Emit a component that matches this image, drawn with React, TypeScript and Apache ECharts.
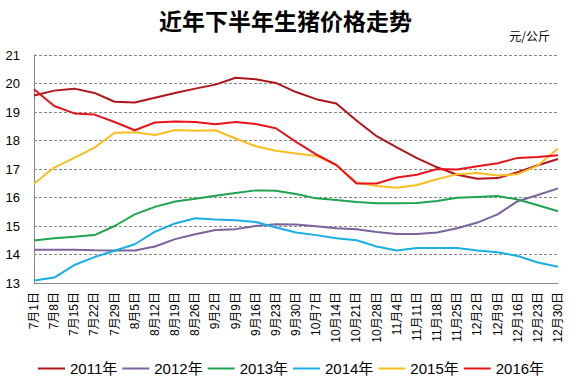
import React, { useEffect, useRef } from "react";
import * as echarts from "echarts";

const categories = [
  "7月1日", "7月8日", "7月15日", "7月22日", "7月29日", "8月5日", "8月12日", "8月19日", "8月26日",
  "9月2日", "9月9日", "9月16日", "9月23日", "9月30日", "10月7日", "10月14日", "10月21日", "10月28日",
  "11月4日", "11月11日", "11月18日", "11月25日", "12月2日", "12月9日", "12月16日", "12月23日", "12月30日",
];

const s2011 = [19.58, 19.75, 19.82, 19.67, 19.36, 19.33, 19.5, 19.67, 19.82, 19.96, 20.2, 20.15, 20.02, 19.7, 19.45, 19.3, 18.7, 18.15, 17.76, 17.38, 17.06, 16.8, 16.66, 16.68, 16.89, 17.13, 17.35];
const s2012 = [14.17, 14.17, 14.17, 14.15, 14.14, 14.14, 14.28, 14.54, 14.71, 14.86, 14.89, 15.0, 15.06, 15.05, 14.99, 14.92, 14.89, 14.79, 14.72, 14.72, 14.77, 14.92, 15.12, 15.41, 15.87, 16.09, 16.32];
const s2013 = [14.49, 14.57, 14.62, 14.68, 15.0, 15.41, 15.67, 15.86, 15.96, 16.06, 16.16, 16.25, 16.24, 16.12, 15.97, 15.91, 15.84, 15.8, 15.8, 15.81, 15.88, 15.99, 16.02, 16.05, 15.93, 15.73, 15.52];
const s2014 = [13.09, 13.19, 13.63, 13.91, 14.13, 14.36, 14.8, 15.09, 15.27, 15.23, 15.2, 15.14, 14.95, 14.77, 14.68, 14.57, 14.5, 14.28, 14.14, 14.23, 14.23, 14.23, 14.14, 14.08, 13.95, 13.72, 13.57];
const s2015 = [16.48, 17.05, 17.39, 17.75, 18.27, 18.29, 18.19, 18.37, 18.34, 18.36, 18.07, 17.8, 17.64, 17.54, 17.46, 17.14, 16.53, 16.4, 16.34, 16.44, 16.64, 16.82, 16.86, 16.77, 16.82, 17.12, 17.72];
const s2016 = [19.8, 19.21, 18.95, 18.91, 18.65, 18.36, 18.63, 18.67, 18.65, 18.57, 18.65, 18.58, 18.43, 17.95, 17.51, 17.14, 16.49, 16.49, 16.7, 16.8, 17.0, 16.98, 17.1, 17.2, 17.39, 17.42, 17.48];

const seriesNames = ["2011年", "2012年", "2013年", "2014年", "2015年", "2016年"];
const seriesData = [s2011, s2012, s2013, s2014, s2015, s2016];
const colors = ["#B0141C", "#7B639D", "#1FA350", "#1AAEE4", "#F7BE20", "#E8141B"];

export default function App() {
  const ref = useRef<HTMLDivElement>(null);
  useEffect(() => {
    if (!ref.current) return;
    const chart = echarts.init(ref.current, null, { renderer: "svg" });
    chart.setOption({
      animation: false,
      backgroundColor: "#ffffff",
      color: colors,
      textStyle: { fontFamily: "Liberation Sans, Noto Sans CJK SC, sans-serif" },
      title: [
        {
          text: "近年下半年生猪价格走势",
          left: "center",
          top: 3,
          textStyle: {
            fontFamily: "Noto Sans CJK SC",
            fontWeight: "bold",
            fontSize: 23,
            color: "#000",
          },
        },
        {
          text: "元/公斤",
          right: 16,
          top: 24,
          textStyle: {
            fontFamily: "Noto Sans CJK SC",
            fontWeight: "normal",
            fontSize: 12,
            color: "#000",
          },
        },
      ],
      legend: {
        left: 33,
        bottom: 6,
        icon: "rect",
        itemWidth: 27,
        itemHeight: 2,
        itemGap: 5,
        textStyle: { fontSize: 15, color: "#000", fontFamily: "Liberation Sans, Noto Sans CJK SC" },
        data: seriesNames,
      },
      grid: { left: 34, right: 13, top: 55, bottom: 104, containLabel: false },
      xAxis: {
        type: "category",
        boundaryGap: false,
        data: categories,
        axisLine: { lineStyle: { color: "#888", width: 1 } },
        axisTick: { show: false },
        axisLabel: {
          rotate: 90,
          interval: 0,
          margin: 9,
          fontSize: 12,
          color: "#000",
          fontFamily: "Liberation Sans, Noto Sans CJK SC",
        },
      },
      yAxis: {
        type: "value",
        min: 13,
        max: 21,
        interval: 1,
        axisLine: { show: true, lineStyle: { color: "#888", width: 1 } },
        axisTick: { show: false },
        axisLabel: { fontSize: 13, color: "#000", margin: 14 },
        splitLine: { lineStyle: { color: "#888", type: [3, 2], width: 1 } },
      },
      series: seriesData.map((d, i) => ({
        name: seriesNames[i],
        type: "line",
        data: d,
        symbol: "none",
        lineStyle: { width: 2, color: colors[i] },
        itemStyle: { color: colors[i] },
        z: i === 5 ? 3 : 2,
      })),
    });
    return () => chart.dispose();
  }, []);
  return <div ref={ref} style={{ width: 571, height: 387, position: "absolute", left: 0, top: 0 }} />;
}
